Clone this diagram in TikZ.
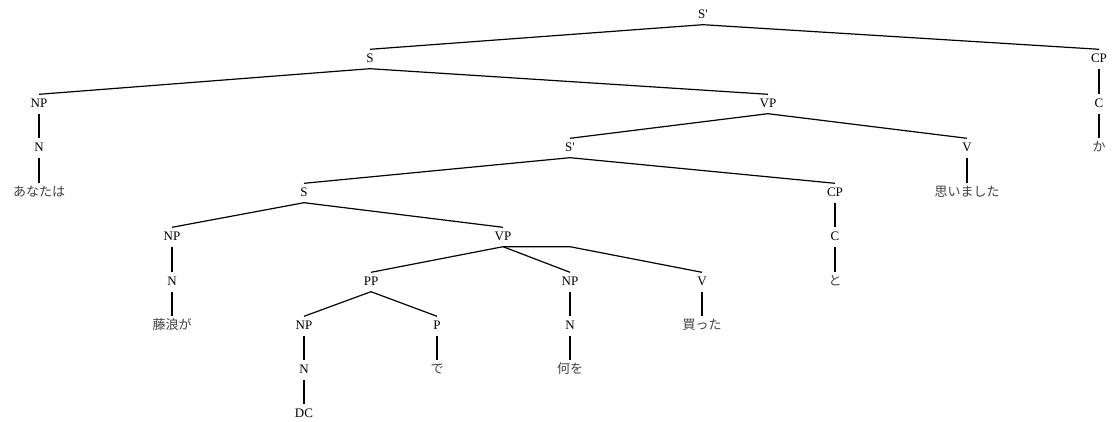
\documentclass[tikz,border=0pt]{standalone}
\usepackage{fontspec}
\setmainfont{Liberation Serif}
\newfontfamily\jp{Noto Sans CJK JP}
\usetikzlibrary{positioning,calc}
\tikzstyle{cat} = [inner xsep=2pt, inner ysep=4pt, text height=9pt, text depth=2pt,
font=\fontsize{13}{15}\selectfont]
\tikzstyle{word} = [cat, text=black!75, font=\fontsize{13}{15}\selectfont\jp]
\tikzstyle{branch} = [line width=1.2pt]
\tikzstyle{unary} = [line width=1.8pt]

\begin{document}
\begin{tikzpicture}[x=1pt,y=-1pt]
	\useasboundingbox (0,0) rectangle (1113,422);
	% top levels
	\node (s0) at (703,15) [cat] {S\textquotesingle};
	\node (s1) at (370,59) [cat] {S};
	\node (cp1) at (1099,59) [cat] {CP};
	\node (np1) at (39,104) [cat] {NP};
	\node (vp1) at (768,104) [cat] {VP};
	\node (c1) at (1099,104) [cat] {C};
	\node (n1) at (39,148) [cat] {N};
	\node (s2) at (570,148) [cat] {S\textquotesingle};
	\node (v1) at (967,148) [cat] {V};
	\node (w1) at (1099,148) [word] {か};
	\node (w2) at (39,193) [word] {あなたは};
	\node (s3) at (304,193) [cat] {S};
	\node (cp2) at (835,193) [cat] {CP};
	\node (w3) at (967,193) [word] {思いました};
	% embedded clause
	\node (np2) at (172,237) [cat] {NP};
	\node (vp2) at (503,237) [cat] {VP};
	\node (c2) at (835,237) [cat] {C};
	\node (n2) at (172,282) [cat] {N};
	\node (pp) at (371,282) [cat] {PP};
	\node (np3) at (570,282) [cat] {NP};
	\node (v2) at (702,282) [cat] {V};
	\node (w4) at (835,282) [word] {と};
	\node (w5) at (172,326) [word] {藤浪が};
	\node (np4) at (304,326) [cat] {NP};
	\node (p) at (437,326) [cat] {P};
	\node (n3) at (570,326) [cat] {N};
	\node (w6) at (702,326) [word] {買った};
	\node (n4) at (304,370) [cat] {N};
	\node (w7) at (437,370) [word] {で};
	\node (w8) at (570,370) [word] {何を};
	\node (dc) at (304,414) [cat] {DC};
	% branches
	\draw[branch] (s1.north) -- (s0.south) -- (cp1.north);
	\draw[branch] (np1.north) -- (s1.south) -- (vp1.north);
	\draw[branch] (s2.north) -- (vp1.south) -- (v1.north);
	\draw[branch] (s3.north) -- (s2.south) -- (cp2.north);
	\draw[branch] (np2.north) -- (s3.south) -- (vp2.north);
	\draw[branch] (pp.north) -- (vp2.south) -- (np3.north);
	\draw[branch] (vp2.south) -- (vp2.south -| np3.north) -- (v2.north);
	\draw[branch] (np4.north) -- (pp.south) -- (p.north);
	% unary lines
	\draw[unary] (cp1) -- (c1);
	\draw[unary] (c1) -- (w1);
	\draw[unary] (np1) -- (n1);
	\draw[unary] (n1) -- (w2);
	\draw[unary] (v1) -- (w3);
	\draw[unary] (cp2) -- (c2);
	\draw[unary] (c2) -- (w4);
	\draw[unary] (np2) -- (n2);
	\draw[unary] (n2) -- (w5);
	\draw[unary] (v2) -- (w6);
	\draw[unary] (np3) -- (n3);
	\draw[unary] (n3) -- (w8);
	\draw[unary] (p) -- (w7);
	\draw[unary] (np4) -- (n4);
	\draw[unary] (n4) -- (dc);
\end{tikzpicture}
\end{document}
